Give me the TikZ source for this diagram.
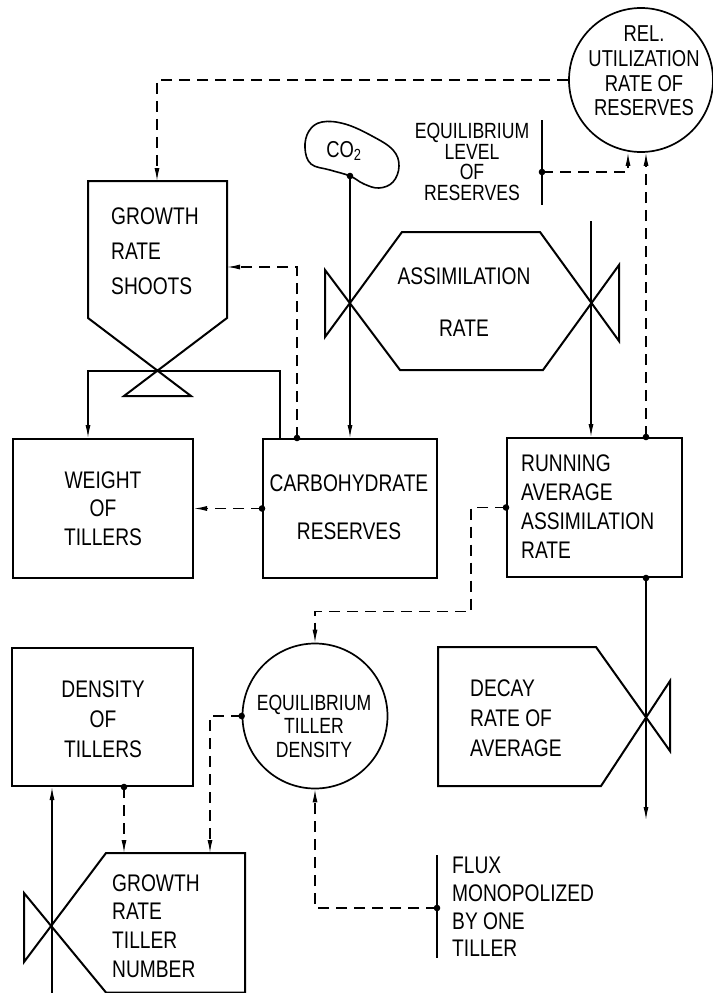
\documentclass[tikz,border=0pt]{standalone}
\usepackage{fontspec}
\setmainfont[FakeStretch=0.8]{Liberation Sans}
\usetikzlibrary{arrows.meta}
\tikzset{
  outline/.style={line width=2pt, line join=miter},
  boxnode/.style={draw, rectangle, line width=2pt, inner sep=0pt},
  circnode/.style={draw, circle, line width=1.7pt, inner sep=0pt},
  flowline/.style={line width=1.2pt},
  infoline/.style={line width=1.2pt, dash pattern=on 11pt off 7pt},
  tipend/.style={-{Latex[length=13pt,width=5pt]}},
  lbl/.style={inner sep=0pt},
}
\newcommand{\dotat}[1]{\fill #1 circle (3.3);}
\begin{document}
\begin{tikzpicture}[x=1pt,y=-1pt]
\useasboundingbox (0,0) rectangle (712,993);

% ---------- boxes ----------
\node[boxnode, minimum width=180pt, minimum height=139pt] (wt) at (103,508.5) {};
\node[boxnode, minimum width=174pt, minimum height=139pt] (cr) at (350,508.5) {};
\node[boxnode, minimum width=175pt, minimum height=139pt] (ra) at (594.5,507.5) {};
\node[boxnode, minimum width=181pt, minimum height=138pt] (dt) at (102.5,717) {};

% ---------- circles ----------
\node[circnode, minimum size=144pt] (rel) at (641,80) {};
\node[circnode, minimum size=145pt] (etd) at (315,716) {};

% ---------- valve shapes ----------
\draw[outline] (88,181) -- (227,181) -- (227,318) -- (124,396) -- (191,396) -- (88,318) -- cycle;
\coordinate (grsT) at (157,181);
\coordinate (grsR) at (227,267);
\coordinate (grsV) at (157.5,371);

\draw[outline] (402,232) -- (540,232) -- (619,341) -- (619,265) -- (543,370) -- (400,370) -- (325,270) -- (325,337) -- cycle;

\draw[outline] (438,647) -- (596,647) -- (670,751) -- (670,681) -- (601,786) -- (438,786) -- cycle;

\draw[outline] (245,992.5) -- (245,853) -- (106,853) -- (24,962) -- (24,893) -- (106,992.5) -- cycle;
\coordinate (gtn1) at (124,853);
\coordinate (gtn2) at (210,853);

% ---------- CO2 cloud ----------
\draw[line width=1.6pt] plot[smooth cycle, tension=0.65] coordinates {(305,148) (309,131) (322,122) (345,124) (372,136) (393,150) (399,166) (393,182) (379,188) (364,184) (350,176) (330,170) (311,164)};
\node[lbl, font=\fontsize{23}{24}\selectfont] (co2) at (344,151) {CO\textsubscript{2}};
\coordinate (co2b) at (350,176);

% ---------- auxiliary bars ----------
\draw[line width=2pt] (542,120) -- (542,205);
\coordinate (elr) at (542,172);
\draw[line width=2pt] (437,855) -- (437,958);
\coordinate (flx) at (437,908);

\coordinate (src1) at (591,221);
\coordinate (src2) at (52,994);
\coordinate (snk) at (646,820);

% ---------- labels ----------
\node[lbl, align=left, anchor=west, font=\fontsize{24}{35}\selectfont] (tgrs) at (111,251) {GROWTH\\RATE\\SHOOTS};
\node[lbl, align=center, font=\fontsize{24}{52}\selectfont] (tas) at (464,302) {ASSIMILATION\\RATE};
\node[lbl, align=center, font=\fontsize{23}{24.7}\selectfont] (trel) at (644,71) {REL.\\UTILIZATION\\RATE OF\\RESERVES};
\node[lbl, align=center, font=\fontsize{22}{20.7}\selectfont] (tel) at (472,162) {EQUILIBRIUM\\LEVEL\\OF\\RESERVES};
\node[lbl, align=center, font=\fontsize{24}{28.5}\selectfont] at (wt) {WEIGHT\\OF\\TILLERS};
\node[lbl, align=center, font=\fontsize{24}{48}\selectfont] at (349,507) {CARBOHYDRATE\\RESERVES};
\node[lbl, align=left, anchor=west, font=\fontsize{24}{29}\selectfont] at (521,507) {RUNNING\\AVERAGE\\ASSIMILATION\\RATE};
\node[lbl, align=center, font=\fontsize{24}{30}\selectfont] at (103,719) {DENSITY\\OF\\TILLERS};
\node[lbl, align=center, font=\fontsize{22}{23.5}\selectfont] at (314,726) {EQUILIBRIUM\\TILLER\\DENSITY};
\node[lbl, align=left, anchor=west, font=\fontsize{24}{30}\selectfont] at (470,718) {DECAY\\RATE OF\\AVERAGE};
\node[lbl, align=left, anchor=west, font=\fontsize{24}{28.7}\selectfont] at (112,926) {GROWTH\\RATE\\TILLER\\NUMBER};
\node[lbl, align=left, anchor=west, font=\fontsize{24}{27.7}\selectfont] at (452,907) {FLUX\\MONOPOLIZED\\BY ONE\\TILLER};

% ---------- material flows ----------
\draw[flowline, tipend] (co2b) -- (cr.north);
\draw[flowline, tipend] ([xshift=-70pt]cr.north) |- (grsV) -| ([xshift=-15pt]wt.north);
\draw[flowline, tipend] (src1) -- ([xshift=-3.5pt]ra.north);
\draw[flowline, tipend] ([xshift=51.5pt]ra.south) -- (snk);
\draw[flowline, tipend] (src2) -- ([xshift=-50.5pt]dt.south);

% ---------- information flows ----------
\draw[infoline, tipend] (rel.west) -| (grsT);
\draw[infoline, tipend] ([xshift=-53pt]cr.north) |- (grsR);
\draw[infoline, tipend] (cr.west) -- (wt.east);
\draw[infoline, tipend] (elr) -| ([xshift=-13pt]rel.south);
\draw[infoline, tipend] ([xshift=51.5pt]ra.north) -- ([xshift=5pt]rel.south);
\draw[infoline, tipend] (ra.west) -- ++(-35,0) |- ([yshift=31.5pt]etd.north) -- (etd.north);
\draw[infoline, tipend] (etd.west) -| (gtn2);
\draw[infoline, tipend] (flx) -| (etd.south);
\draw[infoline, tipend] ([xshift=21.5pt]dt.south) -- (gtn1);

% ---------- pick-off dots ----------
\dotat{(co2b)}
\dotat{([xshift=-53pt]cr.north)}
\dotat{(cr.west)}
\dotat{(elr)}
\dotat{([xshift=51.5pt]ra.north)}
\dotat{([xshift=51.5pt]ra.south)}
\dotat{(ra.west)}
\dotat{(etd.west)}
\dotat{(flx)}
\dotat{([xshift=21.5pt]dt.south)}
\end{tikzpicture}
\end{document}
